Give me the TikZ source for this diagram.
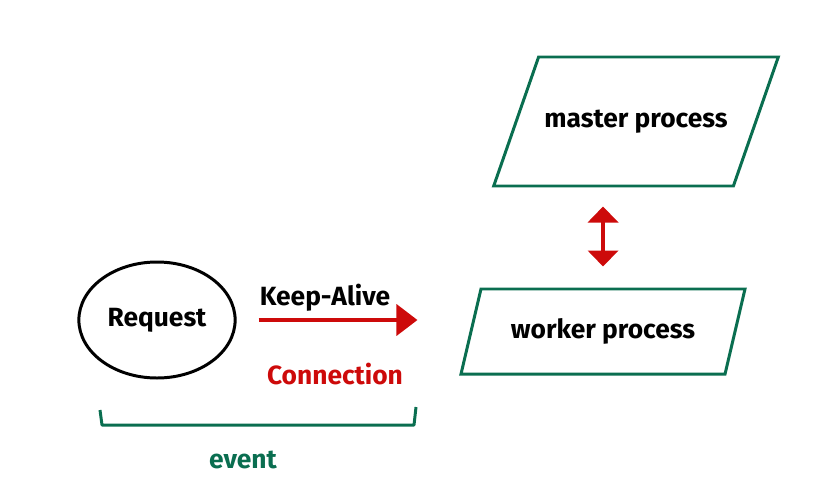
\documentclass[tikz,border=0pt]{standalone}
\usepackage{fontspec}
\setmainfont{Fira Sans}
\usepackage{tikz}
\usetikzlibrary{shapes.geometric, arrows.meta, positioning}

\definecolor{boxgreen}{RGB}{10,110,80}
\definecolor{linkred}{RGB}{205,10,10}

\begin{document}
\begin{tikzpicture}[
  proc/.style={draw=boxgreen, line width=1.7pt, trapezium, trapezium stretches body=true,
               minimum width=5.68cm, text centered, font=\bfseries\fontsize{15}{18}\selectfont},
  link/.style={draw=linkred, line width=2.2pt},
  >={Triangle[length=0.42cm, width=0.62cm]},
]
  \useasboundingbox (0,0) rectangle (16.38,9.72);

  \node[draw, ellipse, line width=1.7pt, minimum width=3.04cm, minimum height=2.32cm,
        font=\bfseries\fontsize{15}{18}\selectfont] (req) at (3.14,3.32) {Request};
  \node[proc, minimum height=2.58cm, trapezium left angle=38, trapezium right angle=142]
    (master) at (12.72,7.29) {master process};
  \node[proc, minimum height=1.70cm, trapezium left angle=62, trapezium right angle=118]
    (worker) at (12.06,3.09) {worker process};

  \node[font=\bfseries\fontsize{15}{18}\selectfont] (keep) at (6.5,3.76) {Keep-Alive};
  \node[font=\bfseries\fontsize{15}{18}\selectfont, text=linkred] (conn) at (6.7,2.24) {Connection};
  \node[font=\bfseries\fontsize{15}{18}\selectfont, text=boxgreen] (evt) at (4.86,0.52) {event};

  \draw[link, ->, shorten <=0.44cm, shorten >=1.04cm] (req.east) -- (req.east -| worker.west);
  \draw[link, <->, >={Triangle[length=0.32cm, width=0.6cm]}, shorten <=0.38cm, shorten >=0.42cm]
    (worker.north |- master.south) -- (worker.north);

  % bracket under request + connection
  \draw[boxgreen, line width=1.7pt, line join=round]
    (2.0,1.52) -- (2.04,1.22) -- (8.28,1.22) -- (8.32,1.58);
\end{tikzpicture}
\end{document}
